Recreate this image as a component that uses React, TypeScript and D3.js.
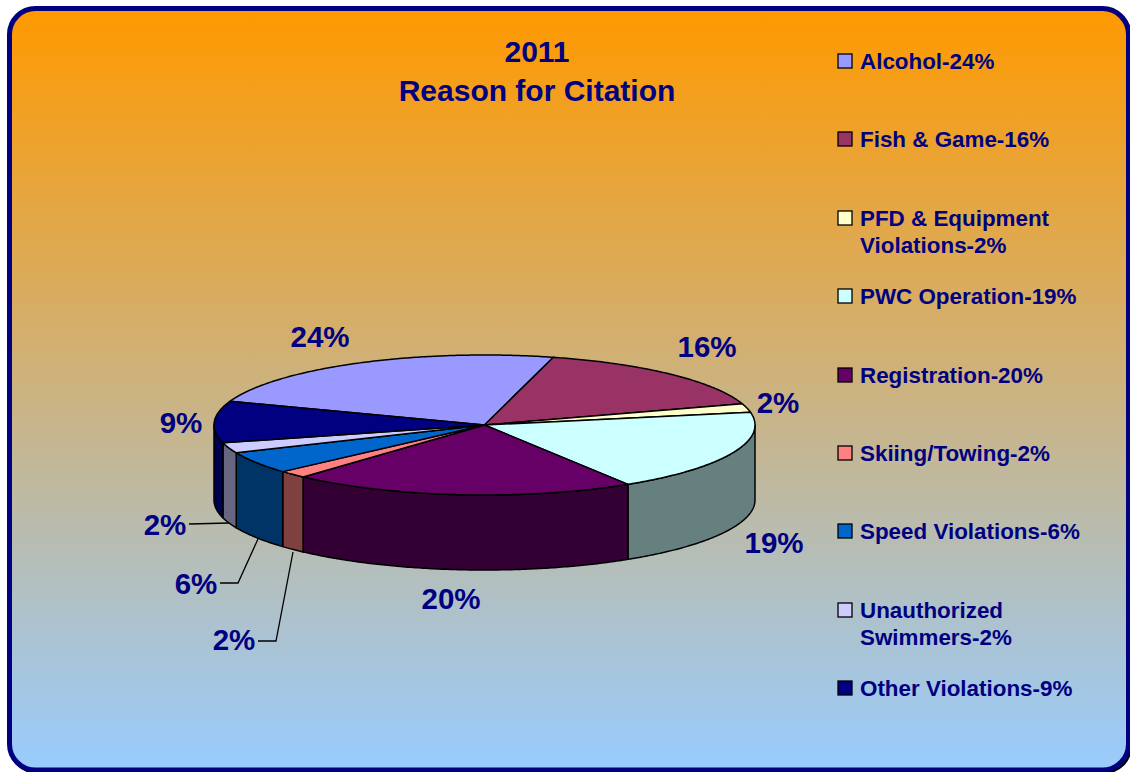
import React from "react";
import * as d3 from "d3";

const categories = ["Alcohol", "Fish & Game", "PFD & Equipment Violations", "PWC Operation", "Registration", "Skiing/Towing", "Speed Violations", "Unauthorized Swimmers", "Other Violations"];
const labelPercents = [24, 16, 2, 19, 20, 2, 6, 2, 9];
const drawnShares = [23.6, 16, 2, 19, 20.6, 1.7, 5.1, 2.4, 9.6];
const topColors = ["#9999ff", "#993366", "#ffffcc", "#ccffff", "#660066", "#ff8080", "#0066cc", "#ccccff", "#000080"];
const sideColors = ["#666699", "#662244", "#808066", "#668080", "#330033", "#804040", "#003366", "#666680", "#000050"];
const legendLines = [["Alcohol-24%"], ["Fish & Game-16%"], ["PFD & Equipment", "Violations-2%"], ["PWC Operation-19%"], ["Registration-20%"], ["Skiing/Towing-2%"], ["Speed Violations-6%"], ["Unauthorized", "Swimmers-2%"], ["Other Violations-9%"]];
const legendRowY = [61, 139, 218, 296, 375, 453, 531, 610, 688];
const labelPos: [number, number][] = [[320, 336], [707, 346], [778, 402], [774, 542], [451, 598], [234, 639], [196, 583], [165, 524], [181, 422]];
const leaders = [
  { label: 5, pts: [[258, 641], [276, 641], [293, 552]] },
  { label: 6, pts: [[220, 583], [238, 583], [258, 539]] },
  { label: 7, pts: [[189, 524], [229, 523]] },
];

const W = 1130, H = 772;
const cx = 484.5, cy = 425, rx = 270.5, ry = 70, depth = 75;
const start = (-70.2 * Math.PI) / 180;
const ff = "'Liberation Sans', Arial, sans-serif";
const navy = "#000080";

const pie = d3.pie<number>().sort(null).startAngle(start).endAngle(start + 2 * Math.PI);
const arcs = pie(drawnShares);
const px = d3.scaleLinear().domain([-1, 1]).range([cx - rx, cx + rx]);
const py = d3.scaleLinear().domain([-1, 1]).range([cy - ry, cy + ry]);
const line = d3.line<[number, number]>();
const rimPts = (a0: number, a1: number, dy = 0): [number, number][] => {
  const n = Math.max(2, Math.ceil(Math.abs(a1 - a0) / 0.01));
  return d3.range(n + 1).map((i) => {
    const a = a0 + ((a1 - a0) * i) / n;
    return [px(Math.sin(a)), py(-Math.cos(a)) + dy] as [number, number];
  });
};

export default function App() {
  return (
    <svg width={W} height={H} viewBox={`0 0 ${W} ${H}`} style={{ position: "absolute", left: 0, top: 0, display: "block" }}>
      <defs>
        <linearGradient id="bg" x1="0" y1="0" x2="0" y2="1">
          <stop offset="0" stopColor="#ff9900" />
          <stop offset="1" stopColor="#99ccff" />
        </linearGradient>
      </defs>
      <rect x="0" y="0" width={W} height={H} fill="#fff" />
      <rect x="9" y="8" width={1123} height={766} rx="28" fill="#000" />
      <rect x="9.5" y="8.5" width={1119} height={761.5} rx="26" fill="url(#bg)" stroke={navy} strokeWidth="5" />
      <g fontFamily={ff} fontWeight="bold" fill={navy} textAnchor="middle" fontSize="30">
        <text x="537" y="62">2011</text>
        <text x="537" y="101">Reason for Citation</text>
      </g>
      <g>
        {arcs.map((d, i) => {
          const a0 = Math.max(d.startAngle, Math.PI / 2);
          const a1 = Math.min(d.endAngle, (3 * Math.PI) / 2);
          if (a1 <= a0) return null;
          const pts = [...rimPts(a0, a1), ...rimPts(a1, a0, depth)];
          return <path key={i} d={line(pts) + "Z"} fill={sideColors[i]} stroke="#000" strokeWidth="1.5" strokeLinejoin="round" />;
        })}
        {arcs.map((d, i) => {
          const pts: [number, number][] = [[cx, cy], ...rimPts(d.startAngle, d.endAngle)];
          return <path key={i} d={line(pts) + "Z"} fill={topColors[i]} stroke="#000" strokeWidth="1.5" strokeLinejoin="round" />;
        })}
      </g>
      <g fill="none" stroke="#000" strokeWidth="1.3">
        {leaders.map((l) => (
          <path key={l.label} d={line(l.pts as [number, number][]) || ""} />
        ))}
      </g>
      <g fontFamily={ff} fontWeight="bold" fill={navy} textAnchor="middle" fontSize="29.5">
        {labelPercents.map((v, i) => (
          <text key={i} x={labelPos[i][0]} y={labelPos[i][1]} dominantBaseline="central">{v}%</text>
        ))}
      </g>
      <g fontFamily={ff} fontWeight="bold" fill={navy} fontSize="22.4">
        {categories.map((c, i) => (
          <g key={c}>
            <rect x="838" y={legendRowY[i] - 7} width="14" height="14" fill={topColors[i]} stroke="#000" strokeWidth="1.3" />
            {legendLines[i].map((t, j) => (
              <text key={j} x="860" y={legendRowY[i] + 8 + j * 27}>{t}</text>
            ))}
          </g>
        ))}
      </g>
    </svg>
  );
}
